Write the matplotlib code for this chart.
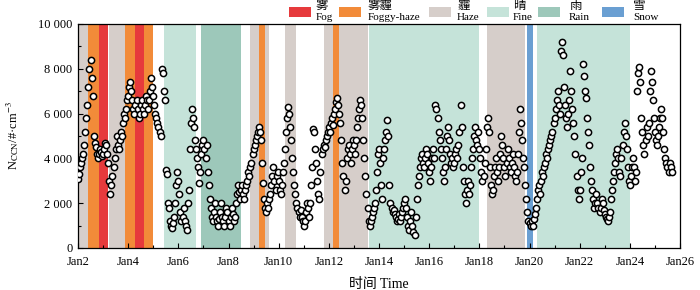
import numpy as np
import matplotlib
matplotlib.use('Agg')
import matplotlib.pyplot as plt
from matplotlib.patches import Rectangle
from matplotlib.ticker import MultipleLocator

# --- Fonts: serif for latin text, CJK fallback for the Chinese labels ---
plt.rcParams['font.family'] = ['Liberation Serif', 'Noto Sans CJK SC']
plt.rcParams['mathtext.fontset'] = 'stix'

# --- Hourly N_CCN, in units of 100 #/cm3 ---
jan02 = [31, 33, 36, 38, 40, 42, 46, 52, 58, 64, 72, 80, 84, 76, 68, 50, 47, 45, 42, 40, 42, 44, 43, 41]
jan03 = [42, 44, 47, 46, 42, 38, 30, 24, 28, 32, 36, 40, 44, 50, 46, 44, 48, 52, 50, 56, 60, 58, 62, 66]
jan04 = [68, 72, 74, 70, 66, 62, 60, 64, 66, 62, 58, 60, 64, 66, 62, 60, 64, 68, 66, 62, 66, 70, 76, 72]
jan05 = [68, 64, 60, 58, 56, 54, 52, 50, 80, 78, 70, 66, 35, 33, 20, 18, 12, 10, 9, 11, 14, 20, 28, 34]
jan06 = [30, 24, 16, 12, 14, 18, 12, 10, 8, 20, 26, 44, 56, 62, 58, 54, 48, 44, 40, 36, 29, 34, 42, 46]
jan07 = [48, 44, 40, 46, 34, 28, 22, 18, 14, 12, 16, 20, 14, 12, 10, 13, 16, 20, 14, 12, 10, 14, 18, 16]
jan08 = [12, 10, 14, 18, 15, 12, 14, 20, 24, 28, 25, 22, 26, 28, 24, 22, 26, 28, 30, 34, 32, 36, 38, 42]
jan09 = [44, 46, 48, 50, 52, 54, 52, 48, 38, 29, 22, 18, 16, 20, 18, 22, 24, 28, 32, 36, 30, 26, 32, 34]
jan10 = [30, 26, 24, 28, 34, 38, 44, 52, 58, 63, 60, 54, 48, 40, 34, 28, 24, 20, 18, 16, 14, 17, 14, 12]
jan11 = [10, 12, 16, 20, 18, 14, 20, 28, 36, 53, 52, 44, 38, 30, 24, 22, 34, 42, 44, 46, 45, 48, 50, 52]
jan12 = [54, 52, 56, 58, 55, 60, 62, 65, 67, 64, 60, 56, 48, 38, 32, 26, 30, 40, 44, 46, 42, 38, 44, 48]
jan13 = [46, 42, 48, 54, 58, 62, 66, 64, 58, 48, 40, 32, 24, 18, 12, 10, 12, 14, 16, 18, 20, 26, 34, 42]
jan14 = [44, 38, 28, 22, 40, 44, 48, 52, 57, 50, 28, 20, 18, 16, 17, 15, 14, 12, 13, 15, 12, 14, 16, 18]
jan15 = [20, 22, 18, 14, 10, 8, 12, 16, 10, 7, 6, 14, 22, 28, 32, 36, 40, 42, 38, 36, 40, 44, 42, 38]
jan16 = [34, 30, 36, 40, 44, 40, 64, 62, 58, 52, 48, 44, 40, 34, 30, 36, 44, 50, 54, 48, 42, 38, 40, 36]
jan17 = [38, 42, 44, 40, 46, 52, 64, 54, 36, 30, 24, 20, 26, 30, 24, 28, 36, 40, 44, 50, 54, 48, 46, 52]
jan18 = [44, 40, 34, 30, 32, 38, 44, 54, 58, 52, 36, 28, 24, 26, 32, 36, 40, 34, 30, 36, 42, 50, 46, 40]
jan19 = [36, 32, 38, 44, 40, 36, 34, 38, 42, 36, 32, 30, 34, 42, 52, 62, 56, 48, 40, 36, 28, 22, 16, 12]
jan20 = [11, 10, 12, 10, 13, 15, 18, 22, 26, 28, 24, 30, 34, 32, 36, 38, 42, 40, 44, 46, 48, 50, 52, 56]
jan21 = [58, 62, 66, 70, 64, 60, 88, 92, 86, 72, 64, 58, 54, 60, 66, 79, 70, 62, 56, 50, 42, 32, 26, 22]
jan22 = [26, 34, 40, 82, 77, 70, 67, 58, 52, 46, 36, 30, 26, 22, 18, 20, 24, 20, 18, 16, 18, 22, 20, 17]
jan23 = [15, 14, 13, 12, 14, 16, 22, 26, 30, 34, 38, 42, 44, 40, 34, 32, 40, 46, 52, 56, 50, 44, 36, 30]
jan24 = [28, 32, 36, 40, 36, 30, 34, 70, 78, 81, 74, 58, 52, 46, 42, 48, 54, 50, 56, 70, 79, 74, 66, 58]
jan25 = [52, 48, 46, 50, 54, 58, 62, 58, 52, 44, 40, 38, 36, 34, 38, 36, 34]

day_values = [jan02, jan03, jan04, jan05, jan06, jan07, jan08, jan09, jan10, jan11, jan12, jan13,
              jan14, jan15, jan16, jan17, jan18, jan19, jan20, jan21, jan22, jan23, jan24, jan25]
first_day = 2

# --- Weather periods (day of January) ---
band_start = [2.0, 2.387, 2.849, 3.248, 3.886, 4.285, 4.644, 5.417, 6.904, 8.858, 9.229, 9.456,
              10.254, 11.809, 12.156, 12.407, 13.615, 18.32, 19.89, 20.289]
band_end = [2.387, 2.825, 3.208, 3.886, 4.285, 4.644, 5.002, 6.693, 8.487, 9.229, 9.456, 9.627,
            10.680, 12.156, 12.407, 13.551, 18.001, 19.82, 20.154, 24.01]
band_type = ['Haze', 'Foggy-haze', 'Fog', 'Haze', 'Foggy-haze', 'Fog', 'Foggy-haze', 'Fine', 'Rain',
             'Haze', 'Foggy-haze', 'Haze', 'Haze', 'Haze', 'Foggy-haze', 'Haze', 'Fine', 'Haze',
             'Snow', 'Fine']

weather_en = ['Fog', 'Foggy-haze', 'Haze', 'Fine', 'Rain', 'Snow']
weather_cn = ['雾', '雾霾', '霾', '晴', '雨', '雪']
weather_colors = ['#E63A3C', '#F28B39', '#D6CECA', '#C5E3D9', '#9DC8BA', '#6A9FD2']

x_ticks = [2, 4, 6, 8, 10, 12, 14, 16, 18, 20, 22, 24, 26]
x_labels = ['Jan2', 'Jan4', 'Jan6', 'Jan8', 'Jan10', 'Jan12', 'Jan14', 'Jan16', 'Jan18',
            'Jan20', 'Jan22', 'Jan24', 'Jan26']
y_ticks = [0, 2000, 4000, 6000, 8000, 10000]
y_labels = ['0', '2 000', '4 000', '6 000', '8 000', '10 000']

# --- Flatten hourly values onto a day axis ---
t = []
v = []
for i, day in enumerate(day_values):
    for h, val in enumerate(day):
        t.append(first_day + i + h / 24.0)
        v.append(val * 100)

fig = plt.figure(figsize=(7, 2.9), dpi=100)
ax = fig.add_axes([78 / 700, 42 / 290, 602 / 700, 224 / 290])

color_of = dict(zip(weather_en, weather_colors))
for s, e, k in zip(band_start, band_end, band_type):
    ax.axvspan(s, e, color=color_of[k], lw=0, zorder=0)

ax.scatter(t, v, s=20, facecolor='white', edgecolor='black', linewidth=1.1, zorder=3)

ax.set_xlim(2, 26)
ax.set_ylim(0, 10000)
ax.set_xticks(x_ticks)
ax.set_xticklabels(x_labels)
ax.set_yticks(y_ticks)
ax.set_yticklabels(y_labels)
ax.xaxis.set_minor_locator(MultipleLocator(1))
ax.yaxis.set_minor_locator(MultipleLocator(1000))
ax.tick_params(which='both', direction='in', top=False, right=False, labelsize=9, width=0.8)
ax.tick_params(which='major', length=3.5, pad=4)
ax.tick_params(axis='x', which='major', pad=6)
ax.tick_params(which='minor', length=2)
for sp in ax.spines.values():
    sp.set_linewidth(0.9)

ax.set_ylabel(r'N$_{\rm CCN}$/#·cm$^{-3}$', fontsize=9)
ax.yaxis.set_label_coords(-0.095, 0.5)
ax.set_xlabel('时间 Time', fontsize=10)
ax.xaxis.set_label_coords(0.5, -0.135)

# --- Legend above the axes: patch, Chinese name over English name ---
patch_x = [289, 339, 429, 487, 538, 602]
text_x = [316, 368, 457, 513, 569, 633]
for px, tx, cn, en, col in zip(patch_x, text_x, weather_cn, weather_en, weather_colors):
    fig.add_artist(Rectangle((px / 700, 1 - 17 / 290), 22 / 700, 10 / 290,
                             transform=fig.transFigure, color=col, lw=0))
    fig.text(tx / 700, 1 - 6 / 290, cn, fontsize=9, va='center', ha='left')
    fig.text(tx / 700, 1 - 18 / 290, en, fontsize=8, va='center', ha='left')

fig.savefig('out.png', dpi=100)
